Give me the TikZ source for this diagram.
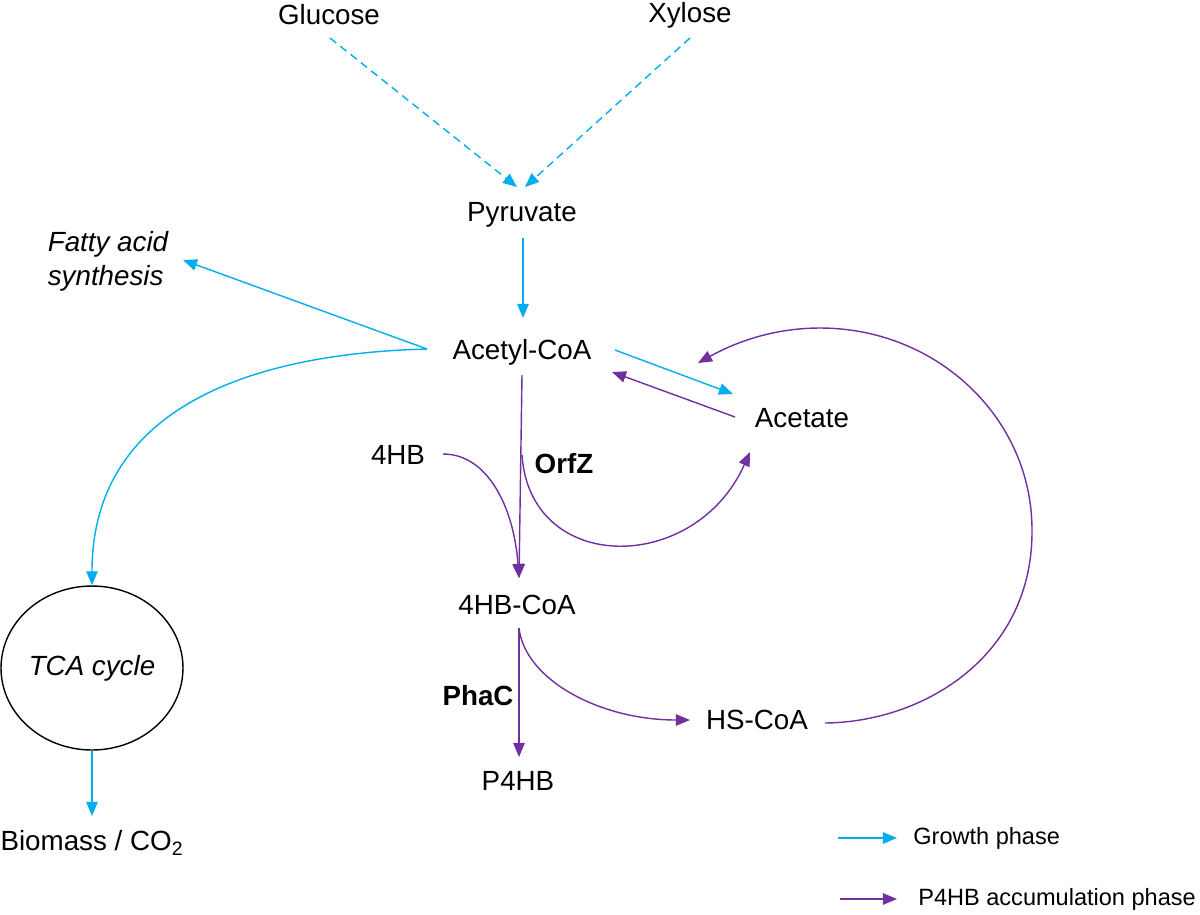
\documentclass[tikz,border=0pt]{standalone}
\usepackage{fontspec}
\setmainfont{Liberation Sans}
\usepackage{tikz}
\usetikzlibrary{positioning,arrows.meta,calc,shapes.geometric}
\definecolor{growthblue}{RGB}{0,174,239}
\definecolor{accumpurple}{RGB}{112,48,160}

\begin{document}
\begin{tikzpicture}[x=0.02cm, y=-0.02cm, >={Triangle[length=8pt,width=6.5pt]},
  every node/.style={inner sep=0pt, font=\fontsize{15.8}{19.4}\selectfont},
  growth/.style={draw=growthblue, line width=0.8pt},
  accum/.style={draw=accumpurple, line width=0.8pt},
  enzyme/.style={font=\fontsize{15.8}{19.4}\selectfont\bfseries},
  legend/.style={anchor=west, font=\fontsize{13.4}{16}\selectfont}]
\useasboundingbox (0,0) rectangle (1200,914);
\node (glucose) at (329,15) {Glucose};
\node (xylose) at (690,15) {Xylose};
\node (pyruvate) at (522,215) {Pyruvate};
\node[align=left, font=\fontsize{15.8}{19.4}\selectfont\itshape] (fatty) at (108,261) {Fatty acid\\synthesis};
\node (acetyl) at (522,352) {Acetyl-CoA};
\node (acetate) at (802,418) {Acetate};
\node (hb) at (398,455) {4HB};
\node[enzyme] (orfz) at (564,464) {OrfZ};
\node (hbcoa) at (517,605) {4HB-CoA};
\node[draw, ellipse, line width=0.8pt, minimum width=3.64cm, minimum height=3.28cm, font=\fontsize{15.8}{19.4}\selectfont\itshape] (tca) at (92,668) {TCA cycle};
\node[enzyme] (phac) at (478,696) {PhaC};
\node (hscoa) at (757,720) {HS-CoA};
\node (p4hb) at (518,781) {P4HB};
\node (biomass) at (92,843) {Biomass / CO\textsubscript{2}};
\node[legend] (lgrow) at (913,838) {Growth phase};
\node[legend] (lacc) at (918,899) {P4HB accumulation phase};
\draw[growth, ->, dash pattern=on 4.5pt off 3pt] ($(glucose.center)+(1,23)$) -- ($(pyruvate.center)+(-5,-28)$);
\draw[growth, ->, dash pattern=on 4.5pt off 3pt] ($(xylose.center)+(0,23)$) -- ($(pyruvate.center)+(3,-28)$);
\draw[growth, ->] ($(pyruvate.center)+(1,23)$) -- ($(acetyl.center)+(1,-34)$);
\draw[growth, ->] ($(acetyl.center)+(-95,-3)$) coordinate (fork) -- ($(fatty.center)+(75,-1)$);
\draw[growth, ->] (fork) .. controls +(-190,5) and +(0,-170) .. (tca.north);
\draw[growth, ->] ($(acetyl.center)+(93,-2)$) -- ($(acetate.center)+(-69,-24)$);
\draw[accum, ->] ($(acetate.center)+(-67,-1)$) -- ($(acetyl.center)+(90,20)$);
\draw[accum, ->] ($(acetyl.center)+(0,23)$) -- ($(hbcoa.center)+(2,-27)$);
\draw[accum, ->] ($(hb.center)+(45,-1)$) .. controls +(45,0) and +(-5,-70) .. ($(hbcoa.center)+(2,-27)$);
\draw[accum, ->] ($(acetyl.center)+(0,103)$) .. controls +(8,120) and +(-55,123) .. ($(acetate.center)+(-52,34)$);
\draw[accum, ->] ($(hbcoa.center)+(2,23)$) -- ($(p4hb.center)+(1,-24)$);
\draw[accum, ->] ($(hbcoa.center)+(2,23)$) .. controls +(6,52) and +(-90,0) .. ($(hscoa.center)+(-67,0)$);
\draw[accum, ->] ($(hscoa.center)+(68,3)$) .. controls (925,722) and (1033,655) .. (1032,530)
  .. controls (1032,418) and (937,328) .. (820,328)
  .. controls (765,328) and (725,348) .. ($(acetyl.center)+(176,11)$);
\draw[growth, ->] (tca.south) -- ($(biomass.center)+(0,-27)$);
\coordinate (lg1) at (838,838);
\coordinate (lg2) at (840,899);
\draw[growth, ->] (lg1) -- ($(lgrow.west)+(-16,0)$);
\draw[accum, ->] (lg2) -- ($(lacc.west)+(-21,0)$);
\end{tikzpicture}
\end{document}
